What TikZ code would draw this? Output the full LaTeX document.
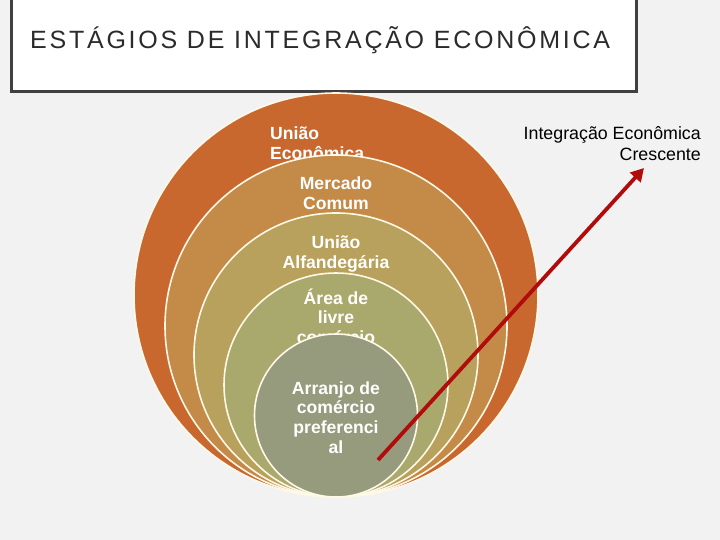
\documentclass[tikz,border=0pt]{standalone}
\usepackage{fontspec}
\setmainfont{Liberation Sans}
\usetikzlibrary{arrows.meta}
\definecolor{bg}{HTML}{F2F2F2}
\definecolor{frame}{HTML}{404040}
\definecolor{titlec}{HTML}{2B2B2B}
\definecolor{cA}{HTML}{C8682F}
\definecolor{cB}{HTML}{C38A48}
\definecolor{cC}{HTML}{B8A15C}
\definecolor{cD}{HTML}{A9A96E}
\definecolor{cE}{HTML}{959B7C}
\definecolor{ring}{HTML}{FFF8E6}
\definecolor{arrowc}{HTML}{B00C0C}
\tikzset{
  stage/.style={circle, draw=ring, line width=1.6pt, inner sep=0pt},
  stagetext/.style={text=white, font=\fontsize{17.6}{19.7}\selectfont\bfseries, align=center, inner sep=0pt},
  sidetext/.style={text=black, font=\fontsize{17.8}{21}\selectfont, align=right, inner sep=0pt},
  growth/.style={draw=arrowc, line width=3.8pt, -{Triangle[length=13pt,width=14pt]}}
}
\begin{document}
\begin{tikzpicture}[x=1pt,y=-1pt]
\fill[bg] (0,0) rectangle (720,540);
\useasboundingbox (0,0) rectangle (720,540);
% title box
\node[draw=frame, fill=white, line width=3pt, minimum width=625pt, minimum height=100pt, anchor=south west, inner sep=0pt] (titlebox) at (10,93) {};
\node[anchor=base west, inner sep=0pt, text=titlec, font=\fontsize{25}{30}\selectfont\addfontfeature{LetterSpace=11}] (title) at (30,48.5) {ESTÁGIOS DE INTEGRAÇÃO ECONÔMICA};
% nested circles
\node[stage, fill=cA, minimum size=404pt] (c1) at (336,295) {};
\node[stagetext, align=left, anchor=west] (t1) at (270,143) {União\\Econômica};
\node[stage, fill=cB, minimum size=342pt] (c2) at (336,326) {};
\node[stagetext] (t2) at (336,193.5) {Mercado\\Comum};
\node[stage, fill=cC, minimum size=284pt] (c3) at (336,355) {};
\node[stagetext] (t3) at (336,254) {União\\Alfandegária};
\node[stage, fill=cD, minimum size=224pt] (c4) at (336,385) {};
\node[stagetext] (t4) at (336,316) {Área de\\livre\\comércio};
\node[stage, fill=cE, minimum size=163pt] (c5) at (336,415.5) {};
\node[stagetext] (t5) at (336,417.5) {Arranjo de\\comércio\\preferenci\\al};
% side text
\node[sidetext, anchor=east] (side) at (701,143.5) {Integração Econômica\\Crescente};
% arrow
\coordinate (a0) at (378,460);
\coordinate (a1) at (644,168);
\draw[growth] (a0) -- (a1);
\end{tikzpicture}
\end{document}
